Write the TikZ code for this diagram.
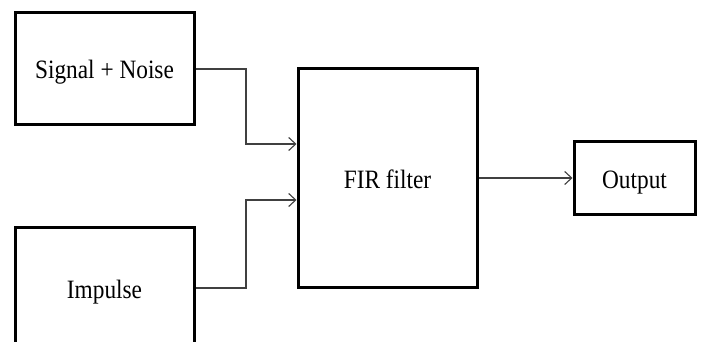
\documentclass[tikz,border=0pt]{standalone}
\usepackage{fontspec}
\usepackage{graphicx}
\setmainfont{Liberation Serif}
\usetikzlibrary{arrows.meta}
\newcommand{\boxlabel}[1]{\scalebox{0.88}[1]{#1}}
\begin{document}
\begin{tikzpicture}[x=1pt,y=-1pt,
  blockbox/.style={draw=black,line width=3pt,fill=white,inner sep=0pt,
    text height=20pt,text depth=0pt,
    font=\fontsize{26.5}{30}\selectfont},
  conn/.style={draw=black!75,line width=1.1pt,-{Straight Barb[length=7pt,width=13pt,line width=1.1pt]}}]
\useasboundingbox (0,0) rectangle (701,342);
\clip (0,0) rectangle (701,342);
\fill[white] (0,0) rectangle (701,342);
\node[blockbox,minimum width=179pt,minimum height=112pt] (sn) at (104.5,69) {\boxlabel{Signal + Noise}};
\node[blockbox,minimum width=179pt,minimum height=122pt] (imp) at (104.5,288) {\boxlabel{Impulse}};
\node[blockbox,minimum width=179pt,minimum height=218pt] (fir) at (387.5,178) {\boxlabel{FIR filter}};
\node[blockbox,minimum width=121pt,minimum height=73pt] (out) at (634.5,178) {\boxlabel{Output}};
\coordinate (k1) at (246,144);
\coordinate (k2) at (246,200);
\draw[conn] (sn.east) -| (k1) -- (fir.west |- k1);
\draw[conn] (imp.east) -| (k2) -- (fir.west |- k2);
\draw[conn] (fir.east) -- (out.west);
\end{tikzpicture}
\end{document}
